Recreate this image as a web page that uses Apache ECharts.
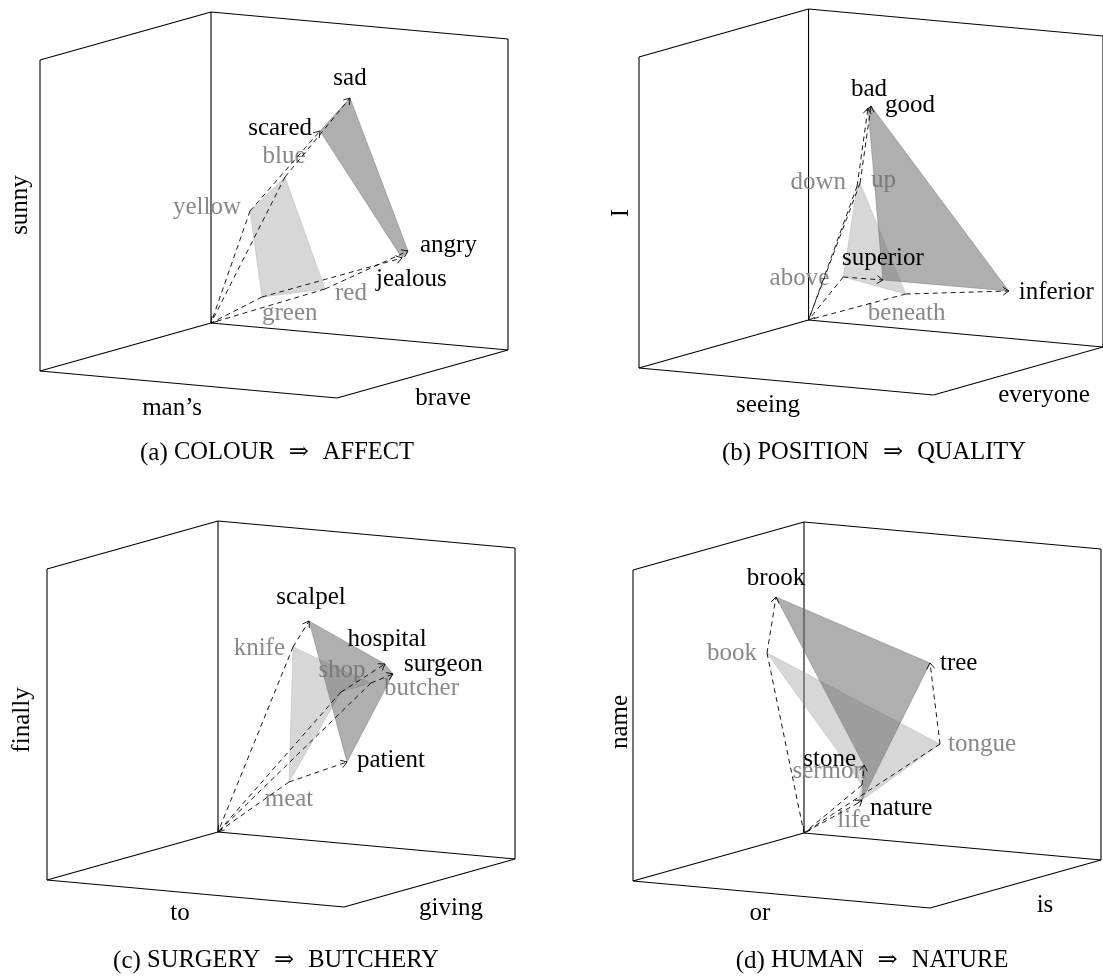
<!DOCTYPE html>
<html><head><meta charset="utf-8">
<script src="https://cdn.jsdelivr.net/npm/echarts@6/dist/echarts.min.js"></script>
<style>html,body{margin:0;padding:0;background:#fff}#c{width:1103px;height:976px}</style>
</head><body><div id="c"></div>
<script>
// ---------------- data (projected coordinates, origin corner = 0,0) ----------------
// three back planes of the cube: edges [x1,y1,x2,y2]
const frameEdges = [
  [0,0,0,311],[0,311,-171,263],[-171,263,-171,-48],[-171,-48,0,0],
  [0,311,297,284],[297,284,297,-27],[297,-27,0,0],
  [-171,-48,126,-75],[126,-75,297,-27]
];

// (a) COLOUR => AFFECT
const aSource  = ['yellow','blue','red','green'];
const aSourceX = [39, 74, 114, 51];
const aSourceY = [112, 146, 34, 26];
const aTarget  = ['scared','sad','angry','jealous'];
const aTargetX = [109, 139, 197, 191];
const aTargetY = [192, 225, 72, 65];
const aAxes = ['sunny','man\u2019s','brave'];
const aCaption = ['(a)','COLOUR','AFFECT'];

// (b) POSITION => QUALITY
const bSource  = ['down','up','above','beneath'];
const bSourceX = [49, 52, 35, 98];
const bSourceY = [134, 137, 43, 26];
const bTarget  = ['bad','good','superior','inferior'];
const bTargetX = [60, 63, 75, 202];
const bTargetY = [212, 214, 40, 29];
const bAxes = ['I','seeing','everyone'];
const bCaption = ['(b)','POSITION','QUALITY'];

// (c) SURGERY => BUTCHERY
const cSource  = ['knife','shop','butcher','meat'];
const cSourceX = [75, 123, 153, 71];
const cSourceY = [185, 140, 149, 50];
const cTarget  = ['scalpel','hospital','surgeon','patient'];
const cTargetX = [91, 167, 175, 129];
const cTargetY = [211, 168, 158, 70];
const cAxes = ['finally','to','giving'];
const cCaption = ['(c)','SURGERY','BUTCHERY'];

// (d) HUMAN => NATURE
const dSource  = ['book','tongue','sermon','life'];
const dSourceX = [-37, 136, 58, 54];
const dSourceY = [180, 89, 48, 30];
const dTarget  = ['brook','tree','stone','nature'];
const dTargetX = [-28, 126, 60, 58];
const dTargetY = [236, 170, 68, 33];
const dAxes = ['name','or','is'];
const dCaption = ['(d)','HUMAN','NATURE'];

// ---------------- layout / style ----------------
const FONT = '"Liberation Serif","Times New Roman",serif';
const LIGHT = 'rgba(150,150,150,0.38)';
const DARK  = 'rgba(110,110,110,0.55)';
const GREYTXT = '#888888';

// label placement: [align, dx, dy]
const aSrcLab = [['right',-9,-4],['center',-1,-21],['left',10,4],['left',0,16]];
const aTgtLab = [['right',-8,-3],['center',0,-20],['left',12,-6],['left',-26,21]];
const bSrcLab = [['right',-11,-4],['left',11,-3],['right',-14,1],['center',1,19]];
const bTgtLab = [['center',1,-19],['left',14,-1],['center',0,-22],['left',10,1]];
const cSrcLab = [['right',-8,1],['center',1,-22],['left',13,5],['center',0,17]];
const cTgtLab = [['center',2,-24],['center',2,-25],['left',11,-10],['left',10,-2]];
const dSrcLab = [['right',-10,0],['left',8,0],['right',4,-14],['center',-4,17]];
const dTgtLab = [['center',0,-19],['left',10,0],['right',-8,-6],['left',8,8]];

const panels = [
  {left:40,  top:12,  s:[aSource,aSourceX,aSourceY,aSrcLab], t:[aTarget,aTargetX,aTargetY,aTgtLab], sp:[0,1,2,3], tp:[0,1,2,3],
   axes:aAxes, axPos:[[20,205],[172,408],[443,398]], cap:aCaption, capPos:[277,453]},
  {left:639, top:9,   s:[bSource,bSourceX,bSourceY,bSrcLab], t:[bTarget,bTargetX,bTargetY,bTgtLab], sp:[0,1,3,2], tp:[0,1,3,2],
   axes:bAxes, axPos:[[621,213],[768,405],[1044,395]], cap:bCaption, capPos:[874,453]},
  {left:47,  top:521, s:[cSource,cSourceX,cSourceY,cSrcLab], t:[cTarget,cTargetX,cTargetY,cTgtLab], sp:[0,2,1,3], tp:[0,1,2,3],
   axes:cAxes, axPos:[[22,720],[180,913],[451,908]], cap:cCaption, capPos:[276,961]},
  {left:633, top:522, s:[dSource,dSourceX,dSourceY,dSrcLab], t:[dTarget,dTargetX,dTargetY,dTgtLab], sp:[0,1,3,2], tp:[0,1,3,2],
   axes:dAxes, axPos:[[620,722],[760,913],[1045,905]], cap:dCaption, capPos:[872,961]}
];

function arrowHead(tip, from, len, col){
  const dx = tip[0]-from[0], dy = tip[1]-from[1];
  const L = Math.sqrt(dx*dx+dy*dy) || 1;
  const ux = dx/L, uy = dy/L, a = 0.6;
  const c = Math.cos(a), s = Math.sin(a);
  const b1 = [tip[0]-len*(ux*c - uy*s), tip[1]-len*(uy*c + ux*s)];
  const b2 = [tip[0]-len*(ux*c + uy*s), tip[1]-len*(uy*c - ux*s)];
  return {type:'polyline', shape:{points:[b1,tip,b2]}, style:{stroke:col, lineWidth:0.9, fill:null}};
}

const grids = [], xAxes = [], yAxes = [], series = [], graphics = [];
panels.forEach((p, i) => {
  grids.push({left:p.left, top:p.top, width:468, height:386});
  xAxes.push({type:'value', gridIndex:i, min:-171, max:297, show:false});
  yAxes.push({type:'value', gridIndex:i, min:-75, max:311, show:false});
  const base = {type:'custom', coordinateSystem:'cartesian2d', xAxisIndex:i, yAxisIndex:i, silent:true, animation:false};

  // cube frame
  series.push(Object.assign({}, base, {
    z:1, data: frameEdges, encode:{x:[0,2], y:[1,3]},
    renderItem: (params, api) => {
      const p1 = api.coord([api.value(0), api.value(1)]);
      const p2 = api.coord([api.value(2), api.value(3)]);
      return {type:'line', shape:{x1:p1[0],y1:p1[1],x2:p2[0],y2:p2[1]}, style:{stroke:'#000', lineWidth:1.1}};
    }
  }));

  // domain polygon + its word labels (source = light/grey, target = dark/black)
  const doms = [[p.s, p.sp, LIGHT, GREYTXT, 2], [p.t, p.tp, DARK, '#000', 4]];
  doms.forEach(([d, order, fillCol, txtCol, z]) => {
    series.push(Object.assign({}, base, {
      z:z, data:[[d[1][order[0]], d[2][order[0]]]],
      renderItem: (params, api) => {
        const pts = order.map(j => api.coord([d[1][j], d[2][j]]));
        return {type:'polygon', shape:{points:pts}, style:{fill:fillCol, stroke:fillCol, lineWidth:0.8}};
      }
    }));
    series.push(Object.assign({}, base, {
      z: z === 2 ? 3 : 6,
      data: d[0].map((w, j) => ({name:w, value:[d[1][j], d[2][j]]})),
      renderItem: (params, api) => {
        const lab = d[3][params.dataIndex];
        const c = api.coord([api.value(0), api.value(1)]);
        return {type:'text', style:{text:d[0][params.dataIndex], x:c[0]+lab[1], y:c[1]+lab[2], fill:txtCol,
          font:'25px '+FONT, align:lab[0], verticalAlign:'middle'}};
      }
    }));
  });

  // dashed vectors: origin - source, source -> target ; one arrow tip at the origin
  const segs = [];
  let mx = 0, my = 0;
  p.s[0].forEach((w, j) => {
    segs.push([p.s[1][j], p.s[2][j], 0, 0, 0]);
    segs.push([p.s[1][j], p.s[2][j], p.t[1][j], p.t[2][j], 1]);
    mx += p.s[1][j] / p.s[0].length; my += p.s[2][j] / p.s[0].length;
  });
  segs.push([mx, my, 0, 0, 2]);
  series.push(Object.assign({}, base, {
    z:5, data: segs, encode:{x:[0,2], y:[1,3]},
    renderItem: (params, api) => {
      const p1 = api.coord([api.value(0), api.value(1)]);
      const p2 = api.coord([api.value(2), api.value(3)]);
      const kind = api.value(4);
      const ch = [];
      if (kind !== 2) ch.push({type:'line', shape:{x1:p1[0],y1:p1[1],x2:p2[0],y2:p2[1]}, style:{stroke:'#000', lineWidth:0.9, lineDash:[5,4]}});
      if (kind !== 0) ch.push(arrowHead(p2, p1, 7, '#000'));
      return {type:'group', children:ch};
    }
  }));

  // axis names
  p.axes.forEach((t, k) => {
    graphics.push({type:'text', x:p.axPos[k][0], y:p.axPos[k][1], rotation: k===0 ? Math.PI/2 : 0,
      style:{text:t, font:'25px '+FONT, fill:'#000', align:'center', verticalAlign:'middle'}});
  });
  // caption
  graphics.push({type:'text', x:p.capPos[0], y:p.capPos[1],
    style:{text:'{n|'+p.cap[0]+' }{s|'+p.cap[1]+'}{a|\u21D2}{s|'+p.cap[2]+'}',
      align:'center', verticalAlign:'middle', fill:'#000',
      rich:{n:{font:'25px '+FONT, fill:'#000'}, s:{font:'24.5px '+FONT, fill:'#000'},
            a:{font:'24px "DejaVu Serif"', fill:'#000', padding:[0,14,0,14]}}}});
});

const chart = echarts.init(document.getElementById('c'));
chart.setOption({animation:false, backgroundColor:'#fff', grid:grids, xAxis:xAxes, yAxis:yAxes, series:series, graphic:graphics});
</script></body></html>
